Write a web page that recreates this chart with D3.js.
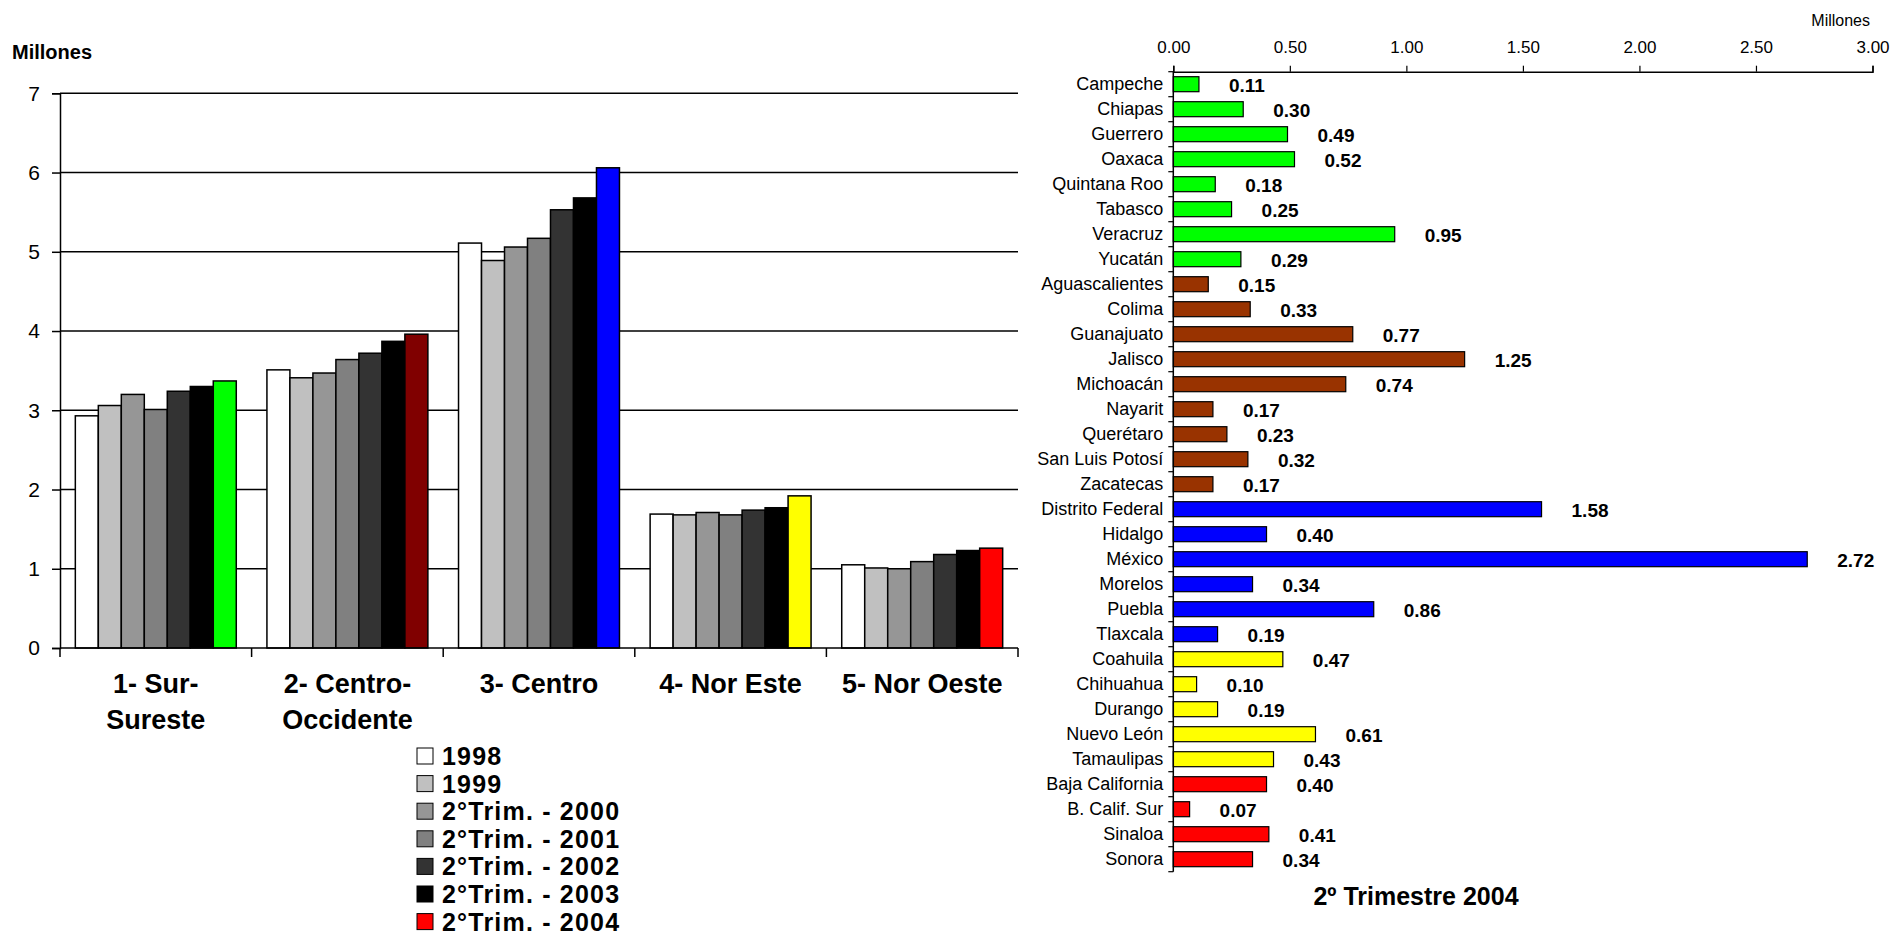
<!DOCTYPE html>
<html><head><meta charset="utf-8">
<script src="https://cdn.jsdelivr.net/npm/d3@7"></script>
<style>
html,body{margin:0;padding:0;background:#fff;}
svg{display:block;font-family:"Liberation Sans",Arial,sans-serif;}
</style></head>
<body>
<svg id="chart" width="1892" height="938"></svg>
<script>
// ---------- Left chart data ----------
const regionLines = [["1- Sur-","Sureste"],["2- Centro-","Occidente"],["3- Centro"],["4- Nor Este"],["5- Nor Oeste"]];
const seriesNames = ["1998","1999","2°Trim. - 2000","2°Trim. - 2001","2°Trim. - 2002","2°Trim. - 2003","2°Trim. - 2004"];
const v1998 = [2.93, 3.51, 5.11, 1.69, 1.05];
const v1999 = [3.06, 3.41, 4.89, 1.68, 1.01];
const v2000 = [3.20, 3.47, 5.06, 1.71, 1.00];
const v2001 = [3.01, 3.64, 5.17, 1.68, 1.09];
const v2002 = [3.24, 3.72, 5.53, 1.74, 1.18];
const v2003 = [3.30, 3.87, 5.68, 1.77, 1.23];
const v2004 = [3.37, 3.96, 6.06, 1.92, 1.26];
const yTicksLeft = [0,1,2,3,4,5,6,7];
const seriesColors = ["#FFFFFF","#C0C0C0","#969696","#808080","#333333","#000000"];
const regionColors = ["#00FF00","#800000","#0000FF","#FFFF00","#FF0000"];

// ---------- Right chart data ----------
const states = ["Campeche","Chiapas","Guerrero","Oaxaca","Quintana Roo","Tabasco","Veracruz","Yucatán",
  "Aguascalientes","Colima","Guanajuato","Jalisco","Michoacán","Nayarit","Querétaro","San Luis Potosí","Zacatecas",
  "Distrito Federal","Hidalgo","México","Morelos","Puebla","Tlaxcala",
  "Coahuila","Chihuahua","Durango","Nuevo León","Tamaulipas",
  "Baja California","B. Calif. Sur","Sinaloa","Sonora"];
const stateValues = [0.11,0.30,0.49,0.52,0.18,0.25,0.95,0.29,
  0.15,0.33,0.77,1.25,0.74,0.17,0.23,0.32,0.17,
  1.58,0.40,2.72,0.34,0.86,0.19,
  0.47,0.10,0.19,0.61,0.43,
  0.40,0.07,0.41,0.34];
const stateRegion = [0,0,0,0,0,0,0,0, 1,1,1,1,1,1,1,1,1, 2,2,2,2,2,2, 3,3,3,3,3, 4,4,4,4];
const stateColors = ["#00FF00","#993300","#0000FF","#FFFF00","#FF0000"];
const xTicksRight = [0,0.5,1,1.5,2,2.5,3];

const svg = d3.select("#chart");
const FONT = '"Liberation Sans",Arial,sans-serif';

// ================= LEFT CHART =================
const L = {x0:60, x1:1018, y0:648, y1:93.3};
const seriesVals = [v1998,v1999,v2000,v2001,v2002,v2003,v2004];
const yL = d3.scaleLinear().domain([0,7]).range([L.y0, L.y1]);
const x0 = d3.scaleBand().domain(d3.range(regionLines.length)).range([L.x0, L.x1]).paddingInner(0.16).paddingOuter(0.08);
const x1 = d3.scaleBand().domain(d3.range(seriesNames.length)).range([0, x0.bandwidth()]).padding(0);
const step = x0.step();

const gL = svg.append("g");
// gridlines
gL.append("g").selectAll("line").data(yTicksLeft.filter(d=>d>0)).join("line")
  .attr("x1",L.x0).attr("x2",L.x1).attr("y1",d=>yL(d)).attr("y2",d=>yL(d))
  .attr("stroke","#000").attr("stroke-width",1.5);
// y axis
const yAxisL = d3.axisLeft(yL).tickValues(yTicksLeft).tickSize(8).tickPadding(12).tickFormat(d3.format("d"));
const yag = gL.append("g").attr("transform",`translate(${L.x0},0)`).call(yAxisL);
yag.select(".domain").attr("stroke","#000").attr("stroke-width",1.5);
yag.selectAll(".tick line").attr("stroke","#000").attr("stroke-width",1.5);
yag.selectAll(".tick text").attr("font-size",21).attr("font-family",FONT).attr("fill","#000");

// bars
const groups = gL.append("g").selectAll("g").data(regionLines.map((r,i)=>i)).join("g")
  .attr("transform",i=>`translate(${x0(i)},0)`);
groups.selectAll("rect").data(ri => seriesVals.map((vals,si)=>({ri,si,v:vals[ri]}))).join("rect")
  .attr("x",d=>x1(d.si)).attr("width",x1.bandwidth())
  .attr("y",d=>yL(d.v)).attr("height",d=>yL(0)-yL(d.v))
  .attr("fill",d=> d.si===6 ? regionColors[d.ri] : seriesColors[d.si])
  .attr("stroke","#000").attr("stroke-width",1.5);

// x axis
gL.append("line").attr("x1",L.x0).attr("x2",L.x1).attr("y1",L.y0).attr("y2",L.y0).attr("stroke","#000").attr("stroke-width",1.5);
const bounds = d3.range(regionLines.length+1).map(i=> i<regionLines.length ? x0(i)-step*x0.paddingOuter() : L.x1);
gL.append("g").selectAll("line").data(bounds).join("line")
  .attr("x1",d=>d).attr("x2",d=>d).attr("y1",L.y0).attr("y2",L.y0+9)
  .attr("stroke","#000").attr("stroke-width",1.5);
// category labels
gL.append("g").selectAll("text").data(regionLines.map((lines,i)=>({lines,i}))).join("text")
  .attr("x",d=>x0(d.i)+x0.bandwidth()/2).attr("y",693)
  .attr("text-anchor","middle").attr("font-size",27).attr("font-weight","bold").attr("font-family",FONT)
  .each(function(d){
    d3.select(this).selectAll("tspan").data(d.lines).join("tspan")
      .attr("x",x0(d.i)+x0.bandwidth()/2).attr("dy",(t,k)=>k===0?0:36).text(t=>t);
  });
// Millones title
svg.append("text").attr("x",12).attr("y",59).attr("font-size",20).attr("font-weight","bold").attr("font-family",FONT).text("Millones");

// legend
const leg = svg.append("g").attr("transform","translate(417,765)");
const legRows = leg.selectAll("g").data(seriesNames).join("g").attr("transform",(d,i)=>`translate(0,${i*27.6})`);
legRows.append("rect").attr("x",0).attr("y",-17).attr("width",16).attr("height",16)
  .attr("fill",(d,i)=> i===6 ? "#FF0000" : seriesColors[i]).attr("stroke","#000").attr("stroke-width",1);
legRows.append("text").attr("x",25).attr("y",0).attr("font-size",25).attr("font-weight","bold")
  .attr("letter-spacing","1.2px").attr("font-family",FONT).text(d=>d);

// ================= RIGHT CHART =================
const R = {x0:1173.3, x1:1872.5, y0:71.7, y1:871.7};
const xR = d3.scaleLinear().domain([0,3]).range([R.x0,R.x1]);
const yR = d3.scaleBand().domain(states).range([R.y0,R.y1]).paddingInner(0.4).paddingOuter(0.2);
const gR = svg.append("g");

// bars
gR.append("g").selectAll("rect").data(states.map((s,i)=>({s,v:stateValues[i],r:stateRegion[i]}))).join("rect")
  .attr("x",xR(0)).attr("y",d=>yR(d.s)).attr("width",d=>xR(d.v)-xR(0)).attr("height",yR.bandwidth())
  .attr("fill",d=>stateColors[d.r]).attr("stroke","#000").attr("stroke-width",1.2);

// top axis
const xAxisR = d3.axisTop(xR).tickValues(xTicksRight).tickSize(6).tickPadding(13).tickFormat(d3.format(".2f"));
const xag = gR.append("g").attr("transform",`translate(0,${R.y0})`).call(xAxisR);
xag.select(".domain").attr("stroke","#000").attr("stroke-width",1.5);
xag.selectAll(".tick line").attr("stroke","#000").attr("stroke-width",1.2);
xag.selectAll(".tick text").attr("font-size",17).attr("font-family",FONT).attr("fill","#000");

// left axis with category labels
const yAxisR = d3.axisLeft(yR).tickSize(0).tickPadding(10);
const yag2 = gR.append("g").attr("transform",`translate(${R.x0},0)`).call(yAxisR);
yag2.select(".domain").remove();
yag2.selectAll(".tick text").attr("font-size",18).attr("font-family",FONT).attr("fill","#000");
gR.append("line").attr("x1",R.x0).attr("x2",R.x0).attr("y1",R.y0).attr("y2",R.y1).attr("stroke","#000").attr("stroke-width",1.5);
const rowBounds = d3.range(states.length+1).map(i=> R.y0 + i*yR.step());
gR.append("g").selectAll("line").data(rowBounds).join("line")
  .attr("x1",R.x0-5).attr("x2",R.x0).attr("y1",d=>d).attr("y2",d=>d).attr("stroke","#000").attr("stroke-width",1.2);

// value labels
gR.append("g").selectAll("text").data(states.map((s,i)=>({s,v:stateValues[i]}))).join("text")
  .attr("x",d=>xR(d.v)+30).attr("y",d=>yR(d.s)+yR.bandwidth()/2).attr("dy","0.4em")
  .attr("font-size",19).attr("font-weight","bold").attr("font-family",FONT).text(d=>d3.format(".2f")(d.v));

// unit + title
svg.append("text").attr("x",1870).attr("y",26).attr("text-anchor","end").attr("font-size",16).attr("font-family",FONT).text("Millones");
svg.append("text").attr("x",1416).attr("y",905).attr("text-anchor","middle").attr("font-size",25).attr("font-weight","bold").attr("font-family",FONT).text("2º Trimestre 2004");
</script>
</body></html>
